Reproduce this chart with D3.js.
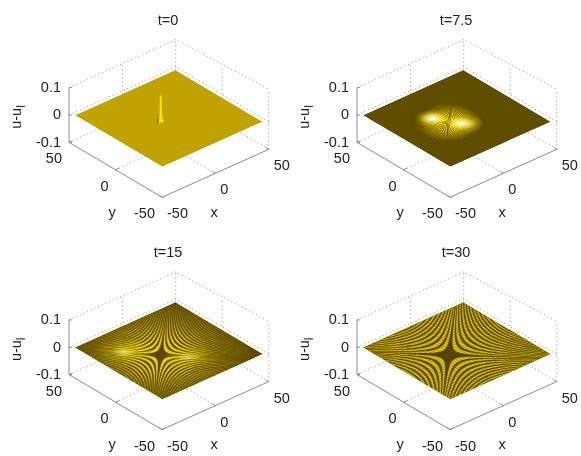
<!DOCTYPE html>
<html><head><meta charset="utf-8">
<script src="https://cdn.jsdelivr.net/npm/d3@7"></script>
<style>html,body{margin:0;padding:0;background:#fff}svg{display:block;filter:blur(0.35px)}text{font-family:"Liberation Sans",Arial,sans-serif;font-size:14.5px;fill:#222}</style>
</head><body><svg id="c" width="581" height="456"></svg>
<script>
const titles = ["t=0","t=7.5","t=15","t=30"];
const xTicks = [-50,0,50];
const yTicks = [-50,0,50];
const zTicks = [-0.1,0,0.1];
// fringe crossings along the x/y axis (data units from the wave centre)
const fringesT0 = [];
const fringesT75 = [3.5,6,8,9.8,11.3,12.7,14,15.2,16.3,17.4,18.4,19.4,20.4,21.4];
const fringesT15 = [5.5,11,15.5,19.3,22.7,25.8,28.7,31.4,33.9,36.3,38.6,40.8,43,45,47,49,50.9,52.8,54.6,56.4,58.2];
const fringesT30 = [7,14,20,25,29.5,33.5,37,40.5,43.5,46.5,49.3,52,54.5,57,59.5];
const allFringes = [fringesT0,fringesT75,fringesT15,fringesT30];
// wave centre and the spike's outline (x offset, height) read from the t=0 panel
const centreX = -8, centreY = -0.5;
const spikeOffset = [-2.2,-1,-0.6,0.6,1,2.2];
const spikeHeight = [0,0.02,0.098,0.098,0.02,0];
const surfaceLimit = 47;

const svg = d3.select("#c"), defs = svg.append("defs");
const soft = defs.append("filter").attr("id","soft").attr("x","-5%").attr("y","-5%").attr("width","110%").attr("height","110%");
soft.append("feGaussianBlur").attr("stdDeviation",0.5);
const xPx = d3.scaleLinear([-50,50],[0,106.7]), xPy = d3.scaleLinear([-50,50],[0,-48]);
const yPx = d3.scaleLinear([-50,50],[0,-93]),  yPy = d3.scaleLinear([-50,50],[0,-55]);
const zPy = d3.scaleLinear([-0.1,0.1],[0,-54.7]);
const offsets = [[0,0],[288,0],[0,232.3],[288,232.3]];
const line = d3.line();

const styles = [
  {base:"#c0a200", stops:[], rx:1, ry:1, glows:[], hot:[], mesh:0, duty:0.5},
  {base:"#5f4d00", stops:[[0,"#ffe800"],[0.45,"#ffe000"],[0.75,"#a88c00"],[1,"#5f4d00"]], rx:34, ry:19,
    glows:[{x:-4.9,y:11.6,rx:18,ry:9,w:0.95},{x:6,y:-7,rx:22,ry:10,w:0.95},{x:4.3,y:-3.7,rx:12,ry:6,w:1},{x:-1.5,y:5.8,rx:11,ry:5,w:0.8}],
    hot:[{x:-4.9,y:11.6,rx:13,ry:6.5,w:1},{x:6,y:-7,rx:16,ry:6,w:0.95}], mesh:0, duty:0.5},
  {base:"#5c4a00", stops:[[0,"#ffe600"],[0.3,"#f4d400"],[0.62,"#a88d00"],[1,"#625000"]], rx:94, ry:56,
    glows:[{x:-17,y:20,rx:30,ry:14,w:0.9},{x:12.6,y:-14.6,rx:28,ry:12,w:0.85},{x:-10,y:18,rx:22,ry:10,w:0.6}],
    hot:[{x:-17,y:20,rx:14,ry:5,w:0.55},{x:12.6,y:-14.6,rx:14,ry:4,w:0.5}], mesh:0.12, duty:0.5},
  {base:"#5a4800", stops:[[0,"#f0d000"],[0.5,"#e0c200"],[1,"#bda000"]], rx:110, ry:70, glows:[], hot:[], mesh:0.24, duty:0.55}
];

styles.forEach((st,i)=>{
  const [ox,oy] = offsets[i];
  const p = (x,y,z=0)=>[162+ox+xPx(x)+yPx(y), 197.3+oy+xPy(x)+yPy(y)+zPy(z)];
  const g = svg.append("g");

  // back walls and floor, dotted
  const dotted = pts=>g.append("path").attr("d",line(pts)).attr("fill","none").attr("stroke","#8a8a8a").attr("stroke-width",1).attr("stroke-dasharray","1 3");
  const [zMin,,zMax] = zTicks;
  const cornerTop = [p(50,-50,zMin)[0], p(50,-50,zMin)[1]+zPy(zMax)*1.1];
  dotted([p(-50,50,zMax),p(50,50,zMax),cornerTop]);
  dotted([p(50,50,zMin),p(50,50,zMax)]);
  dotted([p(50,-50,zMin),cornerTop]);
  dotted([p(-50,50,zMin),p(50,50,zMin),p(50,-50,zMin)]);
  dotted([p(-50,0,zMin),p(50,0,zMin)]);
  dotted([p(0,-50,zMin),p(0,50,zMin)]);
  dotted([p(0,50,zMin),p(0,50,zMax)]);
  dotted([p(50,0,zMin),p(50,0,zMax)]);
  dotted([p(-50,50,0),p(50,50,0),p(50,-50,0)]);

  // solid axes
  const solid = pts=>g.append("path").attr("d",line(pts)).attr("fill","none").attr("stroke","#8c8c8c").attr("stroke-width",1);
  solid([p(-50,50,zMax),p(-50,50,zMin),p(-50,-50,zMin),p(50,-50,zMin)]);
  zTicks.forEach(z=>{const a=p(-50,50,z);solid([a,[a[0]+3,a[1]]]);});
  xTicks.forEach(x=>solid([p(x,-50,zMin),p(x,-47,zMin)]));
  yTicks.forEach(y=>solid([p(-50,y,zMin),p(-47,y,zMin)]));

  // surface
  const L = surfaceLimit;
  const diamond = [p(-L,-L),p(L,-L),p(L,L),p(-L,L)];
  const clipId = "clip"+i;
  defs.append("clipPath").attr("id",clipId).append("path").attr("d",line(diamond)+"Z");
  const surfClip = g.append("g").attr("clip-path",`url(#${clipId})`);
  surfClip.append("path").attr("d",line(diamond)+"Z").attr("fill",st.base);
  const surf = surfClip.append("g").attr("filter","url(#soft)");

  const c = p(centreX,centreY);
  if(st.stops.length){
    const gr = defs.append("radialGradient").attr("id","env"+i).attr("gradientUnits","userSpaceOnUse")
      .attr("cx",0).attr("cy",0).attr("r",1)
      .attr("gradientTransform",`translate(${c[0]},${c[1]}) scale(${st.rx},${st.ry})`);
    st.stops.forEach(s=>gr.append("stop").attr("offset",s[0]).attr("stop-color",s[1]));
  }

  const fr = allFringes[i];
  const wave = d3.range(-40,41).map(k=>Math.exp(k/10));
  const curve = (level,su,sv)=>wave.map(w=>{
    const u = su*level*w, v = sv*level/w;
    return p(centreX+(u+v)/2, centreY+(v-u)/2);
  });
  const quads = [[1,1],[-1,-1],[-1,1],[1,-1]];
  fr.forEach((s,k)=>{
    const next = k<fr.length-1 ? fr[k+1] : s+(s-fr[k-1]);
    const outer = Math.sqrt(s*s+(next*next-s*s)*st.duty);
    quads.forEach(([su,sv])=>{
      const a = curve(s,su,sv), b = curve(outer,su,sv).reverse();
      surf.append("path").attr("d",line(a.concat(b))+"Z").attr("fill",`url(#env${i})`);
    });
  });

  // yellow hot spots sit on the fringes at partial strength, so dark troughs still show through
  const blob = (h,k,tag,c0,c1)=>{
    const id=`${tag}${i}_${k}`;
    const gr=defs.append("radialGradient").attr("id",id);
    gr.append("stop").attr("offset",0).attr("stop-color",c0).attr("stop-opacity",h.w);
    gr.append("stop").attr("offset",1).attr("stop-color",c1).attr("stop-opacity",0);
    const q=p(centreX+h.x,centreY+h.y);
    surf.append("ellipse").attr("cx",q[0]).attr("cy",q[1]).attr("rx",h.rx).attr("ry",h.ry).attr("fill",`url(#${id})`);
  };
  st.glows.forEach((h,k)=>blob({...h,w:h.w*(i===2?0.45:0.8)},k,"glow","#ffe800","#ffe000"));

  // mesh of the plotted surface
  if(st.mesh>0){
    d3.range(-L,L,2.6).forEach(q=>{
      surf.append("path").attr("d",line([p(q,-L),p(q,L)])).attr("stroke","#3a2e00").attr("stroke-width",0.9).attr("stroke-opacity",st.mesh).attr("fill","none");
      surf.append("path").attr("d",line([p(-L,q),p(L,q)])).attr("stroke","#3a2e00").attr("stroke-width",0.9).attr("stroke-opacity",st.mesh).attr("fill","none");
    });
  }

  // white-hot crests
  st.hot.forEach((h,k)=>blob(h,k,"hot","#ffffff","#fff8a0"));

  // spike at t=0
  if(i===0){
    const pts=spikeOffset.map((d,k)=>p(centreX+d,centreY-d*0.35,spikeHeight[k]));
    g.append("path").attr("d",line(pts)+"Z").attr("fill","#ffe000");
    g.append("path").attr("d",line([p(centreX-2,centreY+1),p(centreX-1.6,centreY+1,0.016)])).attr("stroke","#4a3c00").attr("stroke-width",1);
  }

  // text
  const T=(x,y,s,anchor)=>g.append("text").attr("x",x).attr("y",y).attr("text-anchor",anchor).text(s);
  T(168+ox,25+oy,titles[i],"middle");
  zTicks.forEach(z=>{const a=p(-50,50,z);T(a[0]-8,a[1]+4.5,z,"end");});
  xTicks.forEach(x=>{const a=p(x,-50,zMin);T(a[0]+5,a[1]+21,x,"start");});
  yTicks.forEach(y=>{const a=p(-50,y,zMin);T(a[0]-7,a[1]+21,y,"end");});
  T(214+ox,217+oy,"x","middle");
  T(112+ox,217+oy,"y","middle");
  const yl=g.append("text").attr("transform",`translate(${21+ox},${117+oy}) rotate(-90)`).attr("text-anchor","middle");
  yl.append("tspan").text("u-u");
  yl.append("tspan").attr("dy",4).style("font-size","12px").text("l");
});
</script></body></html>
